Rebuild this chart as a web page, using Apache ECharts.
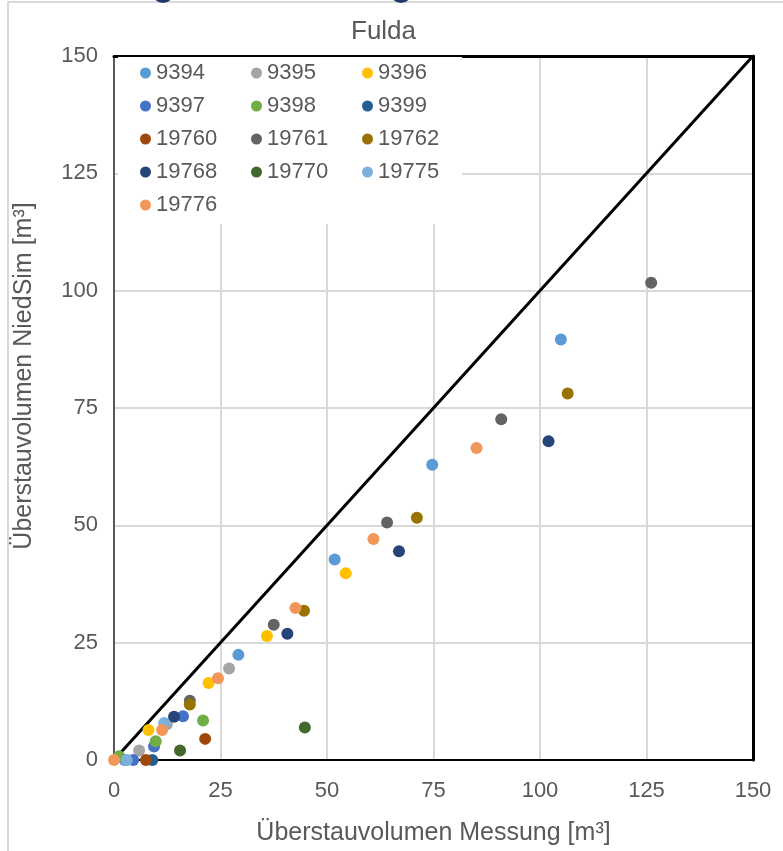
<!DOCTYPE html>
<html>
<head>
<meta charset="utf-8">
<script src="https://cdn.jsdelivr.net/npm/echarts@6/dist/echarts.min.js"></script>
<style>
  html, body { margin: 0; padding: 0; background: #fff; }
  #chart { width: 783px; height: 851px; }
</style>
</head>
<body>
<div id="chart"></div>
<script>
// ---- data ----
const seriesNames = ['9394','9395','9396','9397','9398','9399','19760','19761','19762','19768','19770','19775','19776'];
const seriesColors = ['#5B9BD5','#A5A5A5','#FFC000','#4472C4','#70AD47','#255E91','#9E480E','#636363','#997300','#264478','#43682B','#7CAFDD','#F1975A'];
// measured (x) and simulated (y) overflow volumes per station
const x9394  = [104.9, 74.7, 51.8, 29.2, 2.5];
const y9394  = [89.6, 62.9, 42.7, 22.4, 0];
const x9395  = [27.0, 12.4, 5.9];
const y9395  = [19.5, 7.6, 2.0];
const x9396  = [54.4, 35.9, 22.2, 8.1];
const y9396  = [39.8, 26.4, 16.4, 6.4];
const x9397  = [16.2, 9.4, 4.5];
const y9397  = [9.3, 2.9, 0];
const x9398  = [20.9, 9.8, 1.2];
const y9398  = [8.4, 4.0, 0.8];
const x9399  = [9.0];
const y9399  = [0];
const x19760 = [21.4, 7.5];
const y19760 = [4.5, 0];
const x19761 = [126.1, 90.9, 64.1, 37.5, 17.8];
const y19761 = [101.7, 72.6, 50.6, 28.8, 12.6];
const x19762 = [106.5, 71.1, 44.6, 17.8];
const y19762 = [78.1, 51.6, 31.8, 11.8];
const x19768 = [102.0, 66.9, 40.7, 14.1];
const y19768 = [67.9, 44.5, 26.9, 9.2];
const x19770 = [44.8, 15.5];
const y19770 = [6.9, 2.0];
const x19775 = [3.0, 11.8];
const y19775 = [0, 7.9];
const x19776 = [85.1, 60.9, 42.6, 24.4, 11.3, 0];
const y19776 = [66.5, 47.1, 32.4, 17.4, 6.4, 0];
const diagX = [0, 150];
const diagY = [0, 150];
const axisTicks = [0, 25, 50, 75, 100, 125, 150];

const xs = [x9394,x9395,x9396,x9397,x9398,x9399,x19760,x19761,x19762,x19768,x19770,x19775,x19776];
const ys = [y9394,y9395,y9396,y9397,y9398,y9399,y19760,y19761,y19762,y19768,y19770,y19775,y19776];

const FONT = 'Liberation Sans, Arial, sans-serif';
const TXT = '#595959';

const scatterSeries = seriesNames.map((n, i) => ({
  name: n,
  type: 'scatter',
  symbol: 'circle',
  symbolSize: 12,
  itemStyle: { color: seriesColors[i], opacity: 1 },
  data: xs[i].map((v, k) => [v, ys[i][k]]),
  z: 3
}));

const chart = echarts.init(document.getElementById('chart'), null, { renderer: 'canvas' });
chart.setOption({
  animation: false,
  backgroundColor: '#ffffff',
  title: {
    text: 'Fulda',
    left: 346, top: 14,
    textStyle: { color: TXT, fontSize: 26, fontWeight: 'normal', fontFamily: FONT }
  },
  legend: {
    data: seriesNames,
    left: 118, top: 57,
    width: 330,
    padding: [5, 0, 8, 22],
    backgroundColor: '#ffffff',
    icon: 'circle',
    itemWidth: 11, itemHeight: 11,
    itemGap: 11,
    textStyle: { color: TXT, fontSize: 22, fontFamily: FONT, width: 84, lineHeight: 22, overflow: 'truncate' }
  },
  grid: { left: 114, right: 30, top: 56, bottom: 89 },
  xAxis: [{
    type: 'value', min: axisTicks[0], max: axisTicks[axisTicks.length-1], interval: 25,
    position: 'bottom',
    name: 'Überstauvolumen Messung [m³]',
    nameLocation: 'middle', nameGap: 61,
    nameTextStyle: { color: TXT, fontSize: 25, fontFamily: FONT },
    axisLine: { show: true, lineStyle: { color: '#000000', width: 2 } },
    axisTick: { show: false },
    axisLabel: { color: TXT, fontSize: 22, fontFamily: FONT, margin: 20 },
    splitLine: { show: true, lineStyle: { color: '#D9D9D9', width: 2 } }
  }, {
    type: 'value', min: 0, max: 150, position: 'top',
    axisLine: { show: true, onZero: false, lineStyle: { color: '#000000', width: 3 } },
    axisTick: { show: false }, axisLabel: { show: false }, splitLine: { show: false }
  }],
  yAxis: [{
    type: 'value', min: axisTicks[0], max: axisTicks[axisTicks.length-1], interval: 25,
    position: 'left',
    name: 'Überstauvolumen NiedSim [m³]',
    nameLocation: 'middle', nameGap: 77,
    nameTextStyle: { color: TXT, fontSize: 25, fontFamily: FONT, padding: [0, 0, 0, 64] },
    axisLine: { show: true, lineStyle: { color: '#595959', width: 2 } },
    axisTick: { show: false },
    axisLabel: { color: TXT, fontSize: 22, fontFamily: FONT, margin: 16 },
    splitLine: { show: true, lineStyle: { color: '#D9D9D9', width: 2 } }
  }, {
    type: 'value', min: 0, max: 150, position: 'right',
    axisLine: { show: true, onZero: false, lineStyle: { color: '#000000', width: 3 } },
    axisTick: { show: false }, axisLabel: { show: false }, splitLine: { show: false }
  }],
  graphic: [
    { type: 'rect', shape: { x: 8, y: 2, width: 800, height: 900 }, style: { fill: 'none', stroke: '#D9D9D9', lineWidth: 2 }, silent: true, z: -10 },
    { type: 'circle', shape: { cx: 163, cy: -8, r: 11 }, style: { fill: '#1F3864' }, silent: true },
    { type: 'circle', shape: { cx: 401, cy: -8, r: 11 }, style: { fill: '#1F3864' }, silent: true }
  ],
  series: [{
    name: 'diagonal', type: 'line',
    data: diagX.map((v, k) => [v, diagY[k]]),
    symbol: 'none',
    lineStyle: { color: '#000000', width: 3 },
    z: 2
  }].concat(scatterSeries)
});
</script>
</body>
</html>
